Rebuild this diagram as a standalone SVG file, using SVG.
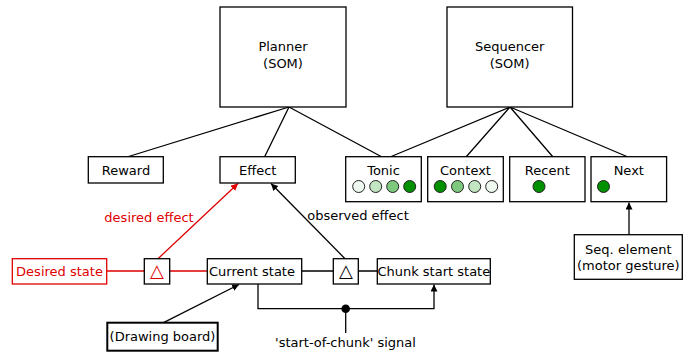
<svg xmlns="http://www.w3.org/2000/svg" width="697" height="353" viewBox="0 0 697 353">
<defs>
<style>
text{font-family:"DejaVu Sans","Liberation Sans",sans-serif;font-size:13px;fill:#000;text-anchor:middle;dominant-baseline:central}
.box{fill:#fff;stroke:#000;stroke-width:1.3}
.red{fill:#e00000}
.rbox{fill:#fff;stroke:#e00000;stroke-width:1.3}
.ln{fill:none;stroke:#000;stroke-width:1.3}
.rln{fill:none;stroke:#e00000;stroke-width:1.3}
.c{stroke:#222;stroke-width:1}
.tri{font-size:18px}
</style>
<marker id="ab" viewBox="0 0 8 8" refX="8" refY="4" markerWidth="7" markerHeight="7" markerUnits="userSpaceOnUse" orient="auto"><path d="M0,0L8,4L0,8z" fill="#000"/></marker>
<marker id="ar" viewBox="0 0 8 8" refX="8" refY="4" markerWidth="7" markerHeight="7" markerUnits="userSpaceOnUse" orient="auto"><path d="M0,0L8,4L0,8z" fill="#e00000"/></marker>
</defs>
<g id="connectors">
<path class="ln" d="M289,107L127,157M289,107L264.5,157M289,107L382,157"/>
<path class="ln" d="M510,107L390,157M510,107L466,157M510,107L553,157M510,107L628,157"/>
<path class="rln" d="M107,271H144M170,271H207"/>
<path class="ln" d="M302,271H333M358,271H377"/>
<path class="rln" d="M158,258.7L238,183.5" marker-end="url(#ar)"/>
<path class="ln" d="M345,258.7L271,183.5" marker-end="url(#ab)"/>
<path class="ln" d="M258,284V308.7H434V284.5" marker-end="url(#ab)"/>
<circle cx="345.7" cy="308.7" r="4.3" fill="#000"/>
<path class="ln" d="M345.7,308.7V333"/>
<path class="ln" d="M163.5,322.7L239,284.5" marker-end="url(#ab)"/>
<path class="ln" d="M629,234.7V202.5" marker-end="url(#ab)"/>
<text x="149" y="217.5" class="red">desired effect</text>
<text x="358" y="215.5">observed effect</text>
<text x="345.5" y="342.5">'start-of-chunk' signal</text>
</g>
<g id="planner"><rect class="box" x="220" y="7" width="126" height="100"/><text x="283" y="46.5">Planner</text><text x="283" y="63">(SOM)</text></g>
<g id="sequencer"><rect class="box" x="447" y="7" width="125.5" height="100"/><text x="509.7" y="46.5">Sequencer</text><text x="509.7" y="63">(SOM)</text></g>
<g id="reward"><rect class="box" x="88.3" y="156.7" width="75" height="26.3"/><text x="126" y="170.5">Reward</text></g>
<g id="effect"><rect class="box" x="220" y="156.7" width="75.3" height="26.3"/><text x="257.7" y="170.5">Effect</text></g>
<g id="tonic"><rect class="box" x="345.7" y="156.7" width="75.6" height="45"/><text x="383.5" y="170.5">Tonic</text>
<circle class="c" cx="358.7" cy="186.5" r="6" fill="#eef8ee"/><circle class="c" cx="375.7" cy="186.5" r="6" fill="#c2e5c2"/><circle class="c" cx="392.7" cy="186.5" r="6" fill="#7fc97f"/><circle class="c" cx="409.7" cy="186.5" r="6" fill="#009000"/></g>
<g id="context"><rect class="box" x="427.7" y="156.7" width="75.6" height="45"/><text x="465.5" y="170.5">Context</text>
<circle class="c" cx="440.2" cy="186.5" r="6" fill="#009000"/><circle class="c" cx="457.5" cy="186.5" r="6" fill="#7fc97f"/><circle class="c" cx="474.7" cy="186.5" r="6" fill="#c2e5c2"/><circle class="c" cx="491.7" cy="186.5" r="6" fill="#eef8ee"/></g>
<g id="recent"><rect class="box" x="509.7" y="156.7" width="75.3" height="45"/><text x="547.3" y="170.5">Recent</text><circle class="c" cx="539" cy="186.5" r="6" fill="#009000"/></g>
<g id="next"><rect class="box" x="591" y="156.7" width="75.6" height="45"/><text x="628.8" y="170.5">Next</text><circle class="c" cx="603.5" cy="186.5" r="6" fill="#009000"/></g>
<g id="desired-state"><rect class="rbox" x="12.3" y="258.7" width="94.4" height="25.3"/><text x="59.5" y="271.5" class="red">Desired state</text></g>
<g id="delta1"><rect class="box" x="144.3" y="258.7" width="25.4" height="25.3"/><text x="157" y="270.5" class="red tri">△</text></g>
<g id="current-state"><rect class="box" x="207.3" y="258.7" width="94.4" height="25.3"/><text x="252" y="271.5">Current state</text></g>
<g id="delta2"><rect class="box" x="333.3" y="258.7" width="25" height="25.3"/><text x="345.8" y="270.5" class="tri">△</text></g>
<g id="chunk-start-state"><rect class="box" x="377.3" y="258.7" width="113" height="25.3"/><text x="433.8" y="271.5">Chunk start state</text></g>
<g id="seq-element"><rect class="box" x="574.3" y="234.7" width="108" height="44.6"/><text x="628.3" y="249">Seq. element</text><text x="628.3" y="265.5">(motor gesture)</text></g>
<g id="drawing-board"><rect class="box" x="107.3" y="322.7" width="110.4" height="28" style="stroke-width:2"/><text x="162.5" y="336.5">(Drawing board)</text></g>
</svg>
